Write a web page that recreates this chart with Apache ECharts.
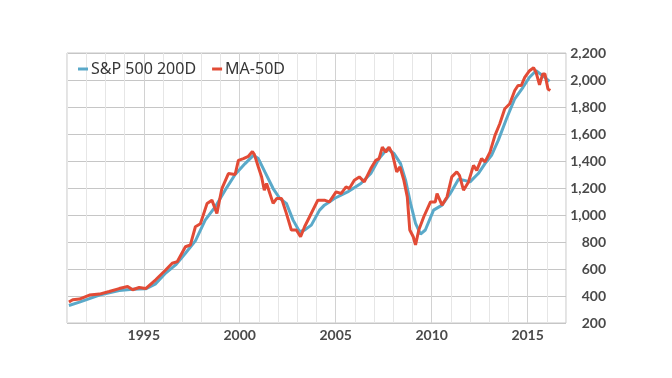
<!DOCTYPE html>
<html>
<head>
<meta charset="utf-8">
<script src="https://cdn.jsdelivr.net/npm/echarts@6/dist/echarts.min.js"></script>
<style>html,body{margin:0;padding:0;background:#fff;}#chart{width:672px;height:378px;}</style>
</head>
<body>
<div id="chart"></div>
<script>
const seriesNames = ['S&P 500 200D', 'MA-50D'];
const yTicks = [200, 400, 600, 800, 1000, 1200, 1400, 1600, 1800, 2000, 2200];
const xTickLabels = [1995, 2000, 2005, 2010, 2015];

const blueYears = [1991.1,1991.65,1992.69,1993.72,1994.42,1995.1,1995.62,1996.14,1996.66,1997.17,1997.69,1998.2,1998.72,1999.24,1999.76,2000.28,2000.71,2000.97,2001.31,2001.74,2002.09,2002.43,2002.78,2003.12,2003.38,2003.73,2004.16,2004.41,2004.67,2004.93,2005.62,2006.31,2006.83,2007.26,2007.69,2008.04,2008.38,2008.64,2008.9,2009.16,2009.42,2009.67,2010.1,2010.54,2010.97,2011.4,2011.66,2012.0,2012.43,2012.78,2013.12,2013.47,2013.9,2014.33,2014.76,2015.1,2015.44,2015.79,2016.14];
const blueValues = [330,355,407,440,450,453,490,570,630,717,808,962,1060,1184,1300,1381,1442,1418,1319,1196,1122,1086,962,876,889,925,1036,1073,1097,1122,1171,1233,1307,1418,1491,1455,1381,1258,1086,938,859,889,1036,1073,1160,1265,1258,1245,1307,1381,1442,1553,1713,1861,1946,2020,2069,2032,1990];

const redYears = [1991.1,1991.3,1991.65,1992.17,1992.69,1993.2,1993.72,1994.16,1994.42,1994.76,1995.1,1995.62,1996.14,1996.48,1996.75,1997.17,1997.43,1997.69,1997.95,1998.3,1998.55,1998.81,1999.07,1999.41,1999.76,1999.93,2000.19,2000.45,2000.66,2000.76,2000.97,2001.14,2001.28,2001.4,2001.57,2001.74,2001.92,2002.18,2002.43,2002.69,2002.95,2003.17,2003.38,2003.64,2004.07,2004.41,2004.67,2005.02,2005.28,2005.54,2005.71,2005.97,2006.23,2006.49,2006.83,2007.09,2007.26,2007.43,2007.61,2007.78,2007.95,2008.18,2008.35,2008.55,2008.73,2008.86,2009.04,2009.16,2009.33,2009.59,2009.94,2010.19,2010.28,2010.54,2010.8,2011.05,2011.31,2011.45,2011.66,2011.92,2012.18,2012.35,2012.6,2012.78,2013.04,2013.3,2013.55,2013.81,2014.07,2014.33,2014.5,2014.67,2014.85,2015.1,2015.31,2015.44,2015.62,2015.79,2015.9,2016.06,2016.18];
const redValues = [355,372,377,407,414,433,455,470,446,463,455,520,593,643,655,765,778,913,935,1086,1110,1012,1196,1307,1300,1405,1418,1435,1470,1449,1356,1282,1184,1233,1159,1086,1122,1122,1012,889,889,839,913,987,1110,1110,1097,1171,1159,1208,1196,1258,1282,1245,1344,1405,1418,1503,1466,1503,1455,1319,1356,1258,1134,889,839,778,889,987,1097,1097,1159,1073,1134,1282,1319,1294,1184,1245,1368,1331,1418,1393,1466,1590,1676,1787,1824,1922,1959,1959,2020,2069,2090,2057,1965,2045,2045,1934,1922];

const blueData = blueYears.map((y, i) => [y, blueValues[i]]);
const redData = redYears.map((y, i) => [y, redValues[i]]);

const chart = echarts.init(document.getElementById('chart'), null, {renderer: 'canvas'});
chart.setOption({
  animation: false,
  backgroundColor: '#ffffff',
  grid: {left: 67, right: 106, top: 53, bottom: 55, show: true, borderColor: '#c6c6c6', borderWidth: 1},
  legend: {
    left: 73, top: 56,
    icon: 'rect', itemWidth: 10, itemHeight: 3, itemGap: 16,
    textStyle: {fontFamily: 'Noto Sans', fontSize: 16, color: '#363636', padding: [0,0,0,-2]},
    data: seriesNames
  },
  xAxis: {
    type: 'value', min: 1991, max: 2017, interval: 1,
    axisLine: {show: false}, axisTick: {show: false},
    splitLine: {show: true, lineStyle: {color: ['#e6e6e6','#e6e6e6','#e6e6e6','#e6e6e6','#d2d2d2'], width: 1}},
    axisLabel: {
      margin: 5,
      fontFamily: 'Lato', fontWeight: 'bold', fontSize: 14, color: '#4a4a4a',
      formatter: v => xTickLabels.indexOf(Math.round(v)) >= 0 ? String(Math.round(v)) : ''
    }
  },
  yAxis: {
    type: 'value', position: 'right', min: yTicks[0], max: yTicks[yTicks.length-1], interval: 200,
    axisLine: {show: false}, axisTick: {show: false},
    splitLine: {show: true, lineStyle: {color: '#c6c6c6', width: 1}},
    axisLabel: {
      align: 'right', margin: 40,
      fontFamily: 'Lato', fontWeight: 'bold', fontSize: 14, color: '#4a4a4a',
      formatter: v => v.toLocaleString('en-US')
    }
  },
  series: [
    {name: seriesNames[0], type: 'line', data: blueData, showSymbol: false, color: '#5aa9c9', lineStyle: {width: 3, color: '#5aa9c9'}},
    {name: seriesNames[1], type: 'line', data: redData, showSymbol: false, color: '#e24b36', lineStyle: {width: 3, color: '#e24b36'}}
  ]
});
</script>
</body>
</html>
